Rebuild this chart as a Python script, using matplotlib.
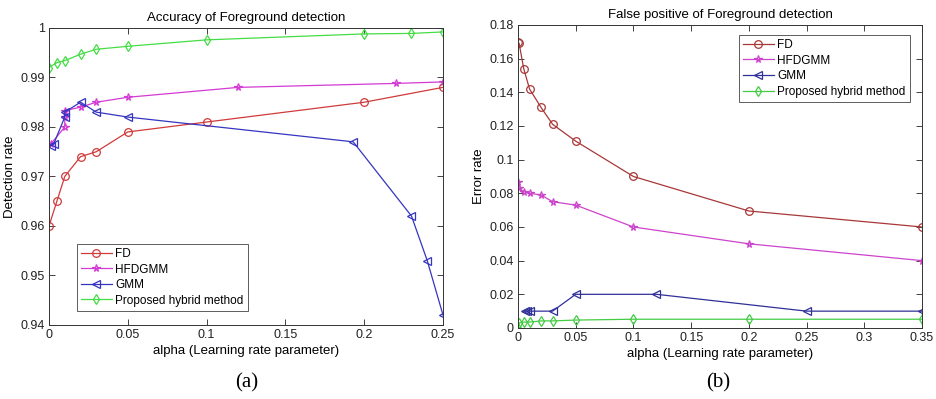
import matplotlib
matplotlib.use("Agg")
import matplotlib.pyplot as plt
from matplotlib.ticker import FuncFormatter

plt.rcParams['font.family'] = ['Liberation Sans', 'DejaVu Sans']

# (a) accuracy of foreground detection
fd_x_a = [0, 0.005, 0.01, 0.02, 0.03, 0.05, 0.1, 0.2, 0.25]
fd_y_a = [0.960, 0.965, 0.970, 0.974, 0.975, 0.979, 0.981, 0.985, 0.988]
hf_x_a = [0.001, 0.01, 0.01, 0.01, 0.02, 0.03, 0.05, 0.12, 0.22, 0.25]
hf_y_a = [0.9765, 0.980, 0.982, 0.9833, 0.984, 0.985, 0.986, 0.988, 0.9888, 0.9891]
gmm_x_a = [0.001, 0.003, 0.01, 0.01, 0.02, 0.03, 0.05, 0.193, 0.23, 0.24, 0.25]
gmm_y_a = [0.9762, 0.9766, 0.982, 0.983, 0.985, 0.983, 0.982, 0.977, 0.962, 0.953, 0.942]
hy_x_a = [0, 0.005, 0.01, 0.02, 0.03, 0.05, 0.1, 0.2, 0.23, 0.25]
hy_y_a = [0.992, 0.993, 0.9934, 0.9947, 0.9957, 0.9963, 0.9976, 0.9988, 0.9989, 0.9992]

# (b) false positive of foreground detection
fd_x_b = [0, 0.001, 0.005, 0.01, 0.02, 0.03, 0.05, 0.1, 0.2, 0.35]
fd_y_b = [0.170, 0.169, 0.154, 0.142, 0.131, 0.121, 0.111, 0.090, 0.0695, 0.060]
hf_x_b = [0, 0.001, 0.005, 0.01, 0.02, 0.03, 0.05, 0.1, 0.2, 0.35]
hf_y_b = [0.087, 0.083, 0.081, 0.080, 0.079, 0.075, 0.073, 0.060, 0.050, 0.040]
gmm_x_b = [0.006, 0.008, 0.01, 0.03, 0.05, 0.12, 0.25, 0.35]
gmm_y_b = [0.010, 0.010, 0.010, 0.010, 0.020, 0.020, 0.010, 0.010]
hy_x_b = [0, 0.001, 0.005, 0.01, 0.02, 0.03, 0.05, 0.1, 0.2, 0.35]
hy_y_b = [0.0, 0.003, 0.0035, 0.0035, 0.0042, 0.0042, 0.0047, 0.0052, 0.0052, 0.0052]

labels = ['FD', 'HFDGMM', 'GMM', 'Proposed hybrid method']


def fmt(v, pos):
    s = ('%.2f' % v).rstrip('0').rstrip('.')
    return s


def style_axes(ax):
    ax.tick_params(direction='in', top=True, right=True, labelsize=9,
                   length=4, width=0.6, colors='#222222', pad=3)
    for sp in ax.spines.values():
        sp.set_linewidth(0.7)
        sp.set_color('#333333')
    ax.xaxis.set_major_formatter(FuncFormatter(fmt))
    ax.yaxis.set_major_formatter(FuncFormatter(fmt))


fig = plt.figure(figsize=(9.37, 3.99), dpi=100)
ax1 = fig.add_axes([0.0523, 0.1855, 0.4205, 0.7444])
ax2 = fig.add_axes([0.5528, 0.178, 0.4312, 0.7594])

kw = dict(linewidth=0.9, markersize=5.5, fillstyle='none', markeredgewidth=0.9)

ax1.plot(fd_x_a, fd_y_a, 'o-', color='#d03a3a', label=labels[0], **kw)
ax1.plot(hf_x_a, hf_y_a, '*-', color='#d43ad4', label=labels[1], **kw)
ax1.plot(gmm_x_a, gmm_y_a, '<-', color='#3535c0', label=labels[2], **kw)
ax1.plot(hy_x_a, hy_y_a, 'd-', color='#44dd44', label=labels[3], **kw)
ax1.set_xlim(0, 0.25)
ax1.set_ylim(0.94, 1.0)
ax1.set_xticks([0, 0.05, 0.1, 0.15, 0.2, 0.25])
ax1.set_yticks([0.94, 0.95, 0.96, 0.97, 0.98, 0.99, 1.0])
ax1.set_title('Accuracy of Foreground detection', fontsize=9.5, pad=5)
ax1.set_xlabel('alpha (Learning rate parameter)', fontsize=9.5, labelpad=3)
ax1.set_ylabel('Detection rate', fontsize=9.5, labelpad=3)
style_axes(ax1)
leg1 = ax1.legend(loc='lower left', bbox_to_anchor=(0.065, 0.04), fontsize=8.5,
                  frameon=True, fancybox=False, edgecolor='#333333',
                  handlelength=2.6, handletextpad=0.3, borderpad=0.35,
                  labelspacing=0.3, borderaxespad=0.2)
leg1.get_frame().set_linewidth(0.7)

ax2.plot(fd_x_b, fd_y_b, 'o-', color='#a83838', label=labels[0], **kw)
ax2.plot(hf_x_b, hf_y_b, '*-', color='#cc44cc', label=labels[1], **kw)
ax2.plot(gmm_x_b, gmm_y_b, '<-', color='#303099', label=labels[2], **kw)
ax2.plot(hy_x_b, hy_y_b, 'd-', color='#44cc44', label=labels[3], **kw)
ax2.set_xlim(0, 0.35)
ax2.set_ylim(0, 0.18)
ax2.set_xticks([0, 0.05, 0.1, 0.15, 0.2, 0.25, 0.3, 0.35])
ax2.set_yticks([0, 0.02, 0.04, 0.06, 0.08, 0.1, 0.12, 0.14, 0.16, 0.18])
ax2.set_title('False positive of Foreground detection', fontsize=9.5, pad=5)
ax2.set_xlabel('alpha (Learning rate parameter)', fontsize=9.5, labelpad=3)
ax2.set_ylabel('Error rate', fontsize=9.5, labelpad=3)
style_axes(ax2)
leg2 = ax2.legend(loc='upper right', bbox_to_anchor=(0.975, 0.975), fontsize=8.5,
                  frameon=True, fancybox=False, edgecolor='#333333',
                  handlelength=2.6, handletextpad=0.3, borderpad=0.35,
                  labelspacing=0.3, borderaxespad=0.2)
leg2.get_frame().set_linewidth(0.7)

fig.text(0.2636, 0.04, '(a)', fontsize=15, family='Liberation Serif',
         ha='center', va='center')
fig.text(0.766, 0.04, '(b)', fontsize=15, family='Liberation Serif',
         ha='center', va='center')

fig.savefig('out.png', dpi=100)
